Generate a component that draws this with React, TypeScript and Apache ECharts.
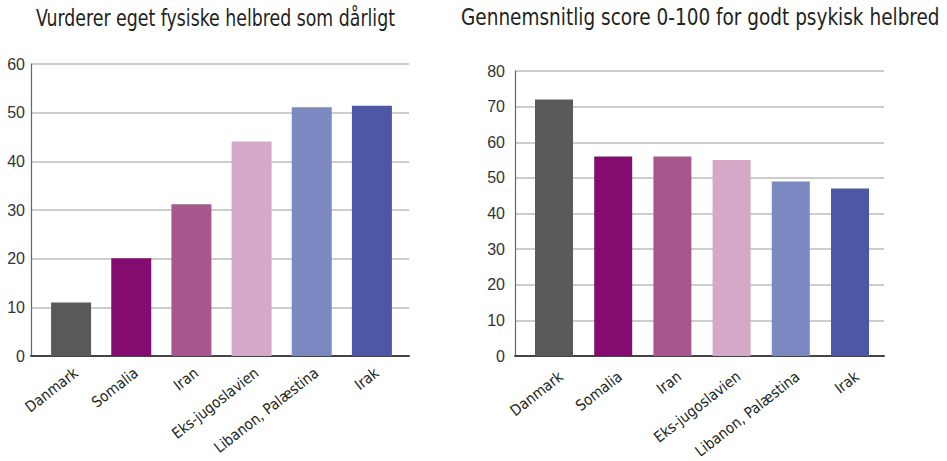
import React, { useEffect, useRef } from "react";
import * as echarts from "echarts";

const categories = ["Danmark", "Somalia", "Iran", "Eks-jugoslavien", "Libanon, Palæstina", "Irak"];
const physicalPoor = [11, 20.1, 31.2, 44.1, 51.1, 51.4];
const mentalScore = [72, 56, 56, 55, 49, 47];
const barColors = ["#58595b", "#840c70", "#a6578c", "#d6a8c8", "#7b88c2", "#4e57a5"];
const titleLeft = "Vurderer eget fysiske helbred som dårligt";
const titleRight = "Gennemsnitlig score 0-100 for godt psykisk helbred";

const LABEL_FONT = "'DejaVu Sans Condensed', 'DejaVu Sans', sans-serif";
const TITLE_FONT = "'DejaVu Sans Condensed', 'DejaVu Sans', sans-serif";
const TITLE_SIZE = 23;
const NUM = "'Liberation Sans', sans-serif";

function measure(text: string): number {
  const c = document.createElement("canvas").getContext("2d");
  if (!c) return 1;
  c.font = `${TITLE_SIZE}px ${TITLE_FONT}`;
  return c.measureText(text).width || 1;
}

function frameAxes(gridIndex: number, max: number, labelMargin: number) {
  const x = {
    type: "value",
    gridIndex,
    min: 0,
    max: 1,
    axisLine: { show: true, lineStyle: { color: "#444", width: 2 } },
    axisTick: { show: false },
    axisLabel: { show: false },
    splitLine: { show: false },
  };
  const y = {
    type: "value",
    gridIndex,
    min: 0,
    max,
    interval: 10,
    axisLine: { show: true, lineStyle: { color: "#666", width: 1.2 } },
    axisTick: { show: false },
    axisLabel: { show: true, color: "#333", fontSize: 16, fontFamily: NUM, margin: labelMargin },
    splitLine: { show: true, lineStyle: { color: "#bdbdbd", width: 1.5 } },
  };
  return { x, y };
}

function catAxes(gridIndex: number, max: number, showLabels: boolean, margin: number) {
  const x = {
    type: "category",
    gridIndex,
    data: categories,
    axisLine: { show: false },
    axisTick: { show: false },
    axisLabel: {
      show: showLabels,
      rotate: 38,
      color: "#231f20",
      fontSize: 15,
      fontFamily: LABEL_FONT,
      margin,
      interval: 0,
    },
    splitLine: { show: false },
  };
  const y = {
    type: "value",
    gridIndex,
    min: 0,
    max,
    interval: 10,
    show: false,
    splitLine: { show: false },
  };
  return { x, y };
}

export default function App() {
  const ref = useRef<HTMLDivElement>(null);
  useEffect(() => {
    document.body.style.margin = "0";
    const chart = echarts.init(ref.current!, undefined, { renderer: "svg" });
    const fa = frameAxes(0, 60, 6);
    const ba = catAxes(1, 60, false, 0);
    const la = catAxes(2, 60, true, 15);
    const fc = frameAxes(3, 80, 10);
    const bc = catAxes(4, 80, false, 0);
    const lc = catAxes(5, 80, true, 21);
    const sL = 359 / measure(titleLeft);
    const sR = 479 / measure(titleRight);
    chart.setOption({
      animation: false,
      backgroundColor: "#ffffff",
      grid: [
        { left: 31, top: 64, width: 378, height: 292 },
        { left: 41, top: 64, width: 361, height: 292 },
        { left: 46, top: 64, width: 361, height: 292 },
        { left: 515, top: 71, width: 369, height: 285 },
        { left: 524.4, top: 71, width: 355.2, height: 285 },
        { left: 531.4, top: 71, width: 355.2, height: 285 },
      ],
      xAxis: [fa.x, ba.x, la.x, fc.x, bc.x, lc.x],
      yAxis: [fa.y, ba.y, la.y, fc.y, bc.y, lc.y],
      graphic: {
        elements: [
          {
            type: "group",
            x: 36,
            y: 6,
            scaleX: sL,
            scaleY: 1,
            children: [
              {
                type: "text",
                x: 0,
                y: 0,
                style: { text: titleLeft, fontSize: TITLE_SIZE, fontFamily: TITLE_FONT, fill: "#231f20" },
              },
            ],
          },
          {
            type: "group",
            x: 461,
            y: 6,
            scaleX: sR,
            scaleY: 1,
            children: [
              {
                type: "text",
                x: 0,
                y: 0,
                style: { text: titleRight, fontSize: TITLE_SIZE, fontFamily: TITLE_FONT, fill: "#231f20" },
              },
            ],
          },
        ],
      },
      series: [
        {
          type: "bar",
          xAxisIndex: 1,
          yAxisIndex: 1,
          barWidth: 40,
          data: physicalPoor.map((v, i) => ({ value: v, itemStyle: { color: barColors[i] } })),
        },
        {
          type: "bar",
          xAxisIndex: 4,
          yAxisIndex: 4,
          barWidth: 38,
          data: mentalScore.map((v, i) => ({ value: v, itemStyle: { color: barColors[i] } })),
        },
      ],
    });
    return () => chart.dispose();
  }, []);
  return <div ref={ref} style={{ width: 947, height: 461 }} />;
}
